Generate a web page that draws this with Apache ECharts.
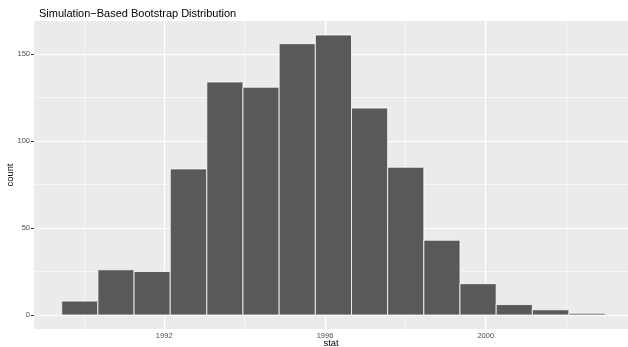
<!DOCTYPE html>
<html>
<head>
<meta charset="utf-8">
<script src="https://cdn.jsdelivr.net/npm/echarts@6/dist/echarts.min.js"></script>
<style>html,body{margin:0;padding:0;background:#fff}#c{width:628px;height:347px}</style>
</head>
<body>
<div id="c"></div>
<script>
// Data
const titleText = 'Simulation\u2212Based Bootstrap Distribution';
const xName = 'stat';
const yName = 'count';
const binEdges = [1989.45, 1990.35, 1991.25, 1992.15, 1993.06, 1993.96, 1994.86, 1995.76,
                  1996.66, 1997.56, 1998.46, 1999.36, 2000.26, 2001.16, 2002.07, 2002.97];
const counts = [8, 26, 25, 84, 134, 131, 156, 161, 119, 85, 43, 18, 6, 3, 1];
const xMajorTicks = [1992, 1996, 2000];
const xMinorTicks = [1990, 1994, 1998, 2002];
const yMajorTicks = [0, 50, 100, 150];
const yMinorTicks = [25, 75, 125];

const binData = counts.map((c, i) => [binEdges[i], binEdges[i + 1], c]);

const chart = echarts.init(document.getElementById('c'), null, {renderer: 'canvas'});
const FONT = 'Liberation Sans, Arial, Helvetica, sans-serif';

const gridLines = [];
xMinorTicks.forEach(v => gridLines.push({xAxis: v, lineStyle: {width: 0.6}}));
xMajorTicks.forEach(v => gridLines.push({xAxis: v, lineStyle: {width: 1.2}}));
yMinorTicks.forEach(v => gridLines.push({yAxis: v, lineStyle: {width: 0.6}}));
yMajorTicks.forEach(v => gridLines.push({yAxis: v, lineStyle: {width: 1.2}}));

chart.setOption({
  animation: false,
  backgroundColor: '#ffffff',
  title: {
    text: titleText,
    left: 34, top: 3,
    textStyle: {fontFamily: FONT, fontSize: 11, fontWeight: 'normal', color: '#000'}
  },
  grid: {
    left: 34, right: 0, top: 21, bottom: 18,
    outerBoundsMode: 'none', containLabel: false,
    show: true, backgroundColor: '#EBEBEB', borderWidth: 0
  },
  xAxis: {
    type: 'value',
    min: 1988.76, max: 2003.54,
    name: xName, nameLocation: 'middle', nameGap: 10, nameMoveOverlap: false,
    nameTextStyle: {fontFamily: FONT, fontSize: 9.4, color: '#000'},
    axisLine: {show: false},
    axisTick: {show: true, customValues: xMajorTicks, length: 3, lineStyle: {color: '#333', width: 1}},
    axisLabel: {customValues: xMajorTicks, margin: 3, fontFamily: FONT, fontSize: 7.5, color: '#4D4D4D',
                formatter: v => String(v)},
    splitLine: {show: false}
  },
  yAxis: {
    type: 'value',
    min: -8.05, max: 169.05,
    name: yName, nameLocation: 'middle', nameGap: 19, nameRotate: 90, nameMoveOverlap: false,
    nameTextStyle: {fontFamily: FONT, fontSize: 9.4, color: '#000'},
    axisLine: {show: false},
    axisTick: {show: true, customValues: yMajorTicks, length: 3, lineStyle: {color: '#333', width: 1}},
    axisLabel: {customValues: yMajorTicks, margin: 4, fontFamily: FONT, fontSize: 7.5, color: '#4D4D4D',
                formatter: v => String(v)},
    splitLine: {show: false}
  },
  series: [
    {
      type: 'scatter', data: [], z: 1, silent: true,
      markLine: {
        z: 1,
        silent: true, symbol: 'none', animation: false,
        label: {show: false},
        lineStyle: {color: '#ffffff', type: 'solid'},
        data: gridLines
      }
    },
    {
      type: 'custom', z: 3,
      data: binData,
      encode: {x: [0, 1], y: 2},
      renderItem: function (params, api) {
        const p0 = api.coord([api.value(0), api.value(2)]);
        const p1 = api.coord([api.value(1), 0]);
        return {
          type: 'rect',
          shape: {x: p0[0], y: p0[1], width: p1[0] - p0[0], height: p1[1] - p0[1]},
          style: {fill: '#595959', stroke: '#ffffff', lineWidth: 0.8}
        };
      }
    }
  ]
});
</script>
</body>
</html>
